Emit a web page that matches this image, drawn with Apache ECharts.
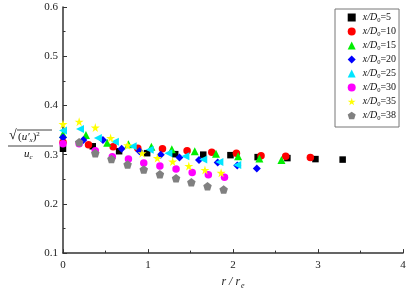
<!DOCTYPE html>
<html><head><meta charset="utf-8">
<script src="https://cdn.jsdelivr.net/npm/echarts@6/dist/echarts.min.js"></script>
<style>html,body{margin:0;padding:0;background:#fff}#c{width:415px;height:295px}</style>
</head><body><div id="c"></div>
<script>
// ---- data ----
const seriesNames = ['5', '10', '15', '20', '25', '30', '35', '38'];
const r5  = [0, 0.35, 0.66, 0.99, 1.32, 1.65, 1.97, 2.29, 2.64, 2.97, 3.29];
const v5  = [0.312, 0.317, 0.307, 0.303, 0.301, 0.300, 0.299, 0.295, 0.293, 0.291, 0.290];
const r10 = [0, 0.30, 0.59, 0.88, 1.17, 1.46, 1.75, 2.04, 2.33, 2.62, 2.91];
const v10 = [0.325, 0.320, 0.316, 0.313, 0.312, 0.308, 0.305, 0.303, 0.298, 0.297, 0.294];
const r15 = [0, 0.27, 0.52, 0.77, 1.04, 1.28, 1.55, 1.80, 2.06, 2.31, 2.57];
const v15 = [0.342, 0.340, 0.324, 0.321, 0.316, 0.311, 0.307, 0.302, 0.297, 0.292, 0.289];
const r20 = [0, 0.24, 0.47, 0.69, 0.90, 1.15, 1.37, 1.60, 1.82, 2.05, 2.28];
const v20 = [0.335, 0.330, 0.330, 0.312, 0.307, 0.300, 0.294, 0.289, 0.284, 0.278, 0.272];
const r25 = [0, 0.20, 0.41, 0.61, 0.82, 1.02, 1.24, 1.44, 1.65, 1.84, 2.05];
const v25 = [0.349, 0.352, 0.334, 0.326, 0.317, 0.310, 0.303, 0.297, 0.290, 0.285, 0.279];
const r30 = [0, 0.19, 0.38, 0.58, 0.77, 0.95, 1.14, 1.33, 1.52, 1.71, 1.90];
const v30 = [0.322, 0.322, 0.308, 0.296, 0.291, 0.283, 0.277, 0.271, 0.264, 0.259, 0.254];
const r35 = [0, 0.19, 0.38, 0.56, 0.76, 0.93, 1.11, 1.29, 1.48, 1.67, 1.86];
const v35 = [0.362, 0.367, 0.355, 0.334, 0.319, 0.303, 0.293, 0.286, 0.277, 0.269, 0.263];
const r38 = [0.19, 0.38, 0.57, 0.76, 0.95, 1.14, 1.33, 1.51, 1.70, 1.89];
const v38 = [0.325, 0.303, 0.291, 0.280, 0.270, 0.260, 0.252, 0.244, 0.236, 0.229];
const xTicks = [0, 1, 2, 3, 4];
const yTicks = [0.1, 0.2, 0.3, 0.4, 0.5, 0.6];

// ---- styling ----
const rs = [r5, r10, r15, r20, r25, r30, r35, r38];
const vs = [v5, v10, v15, v20, v25, v30, v35, v38];
const colors = ['#000000', '#ff0000', '#00ee00', '#0000ff', '#00e5ff', '#ff00ff', '#ffff00', '#808080'];
const STAR = 'path://M50,0 L61,35 L98,35 L68,57 L79,91 L50,70 L21,91 L32,57 L2,35 L39,35 Z';
const PENT = 'path://M50,0 L97.6,34.5 L79.4,90.5 L20.6,90.5 L2.4,34.5 Z';
const symbols = ['rect', 'circle', 'triangle', 'diamond', 'triangle', 'circle', STAR, PENT];
const rotates = [0, 0, 0, 0, 90, 0, 0, 0];
const sizes = [6.5, 7.5, 8, 8, 8, 7.5, 9, 8.5];
const SERIF = '"Liberation Serif", "DejaVu Serif", serif';

const series = seriesNames.map((n, i) => ({
  name: n,
  type: 'scatter',
  data: rs[i].map((r, k) => [r, vs[i][k]]),
  symbol: symbols[i],
  symbolRotate: rotates[i],
  symbolSize: sizes[i],
  itemStyle: { color: colors[i], opacity: 1 },
  emphasis: { disabled: true }
}));

const chart = echarts.init(document.getElementById('c'), null, { renderer: 'canvas' });
chart.setOption({
  animation: false,
  backgroundColor: '#fff',
  grid: { left: 63, right: 12, top: 7, bottom: 37, containLabel: false },
  xAxis: {
    type: 'value', min: xTicks[0], max: xTicks[xTicks.length - 1], interval: 1,
    axisLine: { lineStyle: { color: '#333', width: 1.5 } },
    axisTick: { inside: true, length: 4, lineStyle: { color: '#333' } },
    minorTick: { show: true, splitNumber: 2, length: 2.5, lineStyle: { color: '#333' } },
    splitLine: { show: false },
    axisLabel: { color: '#222', fontFamily: SERIF, fontSize: 11, margin: 7 },
    name: '{i|r / r}{s|e}', nameLocation: 'middle', nameGap: 20,
    nameTextStyle: {
      rich: {
        i: { fontFamily: SERIF, fontStyle: 'italic', fontSize: 12, color: '#222' },
        s: { fontFamily: SERIF, fontStyle: 'italic', fontSize: 8, color: '#222', padding: [8, 0, 0, 1] }
      }
    }
  },
  yAxis: {
    type: 'value', min: yTicks[0], max: yTicks[yTicks.length - 1], interval: 0.1,
    axisLine: { show: true, lineStyle: { color: '#333', width: 1.5 } },
    axisTick: { show: true, inside: true, length: 4, lineStyle: { color: '#333' } },
    minorTick: { show: true, splitNumber: 2, length: 2.5, lineStyle: { color: '#333' } },
    splitLine: { show: false },
    axisLabel: { color: '#222', fontFamily: SERIF, fontSize: 11, margin: 5, formatter: v => v.toFixed(1) }
  },
  legend: {
    orient: 'vertical', left: 335, top: 9,
    padding: [2, 3, 5, 12.7],
    itemWidth: 8, itemHeight: 8, itemGap: 1,
    borderColor: '#777', borderWidth: 1,
    backgroundColor: '#fff',
    formatter: n => '{i|x/D}{s|0}{n|=' + n + '}',
    textStyle: {
      rich: {
        i: { fontFamily: SERIF, fontStyle: 'italic', fontSize: 10, color: '#111', lineHeight: 12, padding: [0, 0, 0, 2] },
        s: { fontFamily: SERIF, fontSize: 6.5, color: '#111', lineHeight: 8, padding: [6, 0, 0, 0] },
        n: { fontFamily: SERIF, fontSize: 10, color: '#111', lineHeight: 12 }
      }
    }
  },
  graphic: [
    { type: 'text', left: 9, top: 128, style: { text: '√', font: '14px ' + SERIF, fill: '#111' } },
    { type: 'line', shape: { x1: 17, y1: 130, x2: 52, y2: 130 }, style: { stroke: '#111', lineWidth: 0.8 } },
    { type: 'text', left: 18, top: 131, style: {
        text: '{a|(}{u|u′}{b|x}{a|)}{c|2}',
        rich: {
          a: { fontFamily: SERIF, fontSize: 11, fill: '#111' },
          u: { fontFamily: SERIF, fontStyle: 'italic', fontSize: 11, fill: '#111' },
          b: { fontFamily: SERIF, fontStyle: 'italic', fontSize: 7, fill: '#111', padding: [6, 0, 0, 0] },
          c: { fontFamily: SERIF, fontSize: 7, fill: '#111', padding: [0, 0, 6, 0] }
        } } },
    { type: 'line', shape: { x1: 8, y1: 146, x2: 53, y2: 146 }, style: { stroke: '#111', lineWidth: 0.8 } },
    { type: 'text', left: 24, top: 149, style: {
        text: '{u|u}{b|c}',
        rich: {
          u: { fontFamily: SERIF, fontStyle: 'italic', fontSize: 11, fill: '#111' },
          b: { fontFamily: SERIF, fontStyle: 'italic', fontSize: 7, fill: '#111', padding: [6, 0, 0, 0] }
        } } }
  ],
  series: series
});
</script></body></html>
